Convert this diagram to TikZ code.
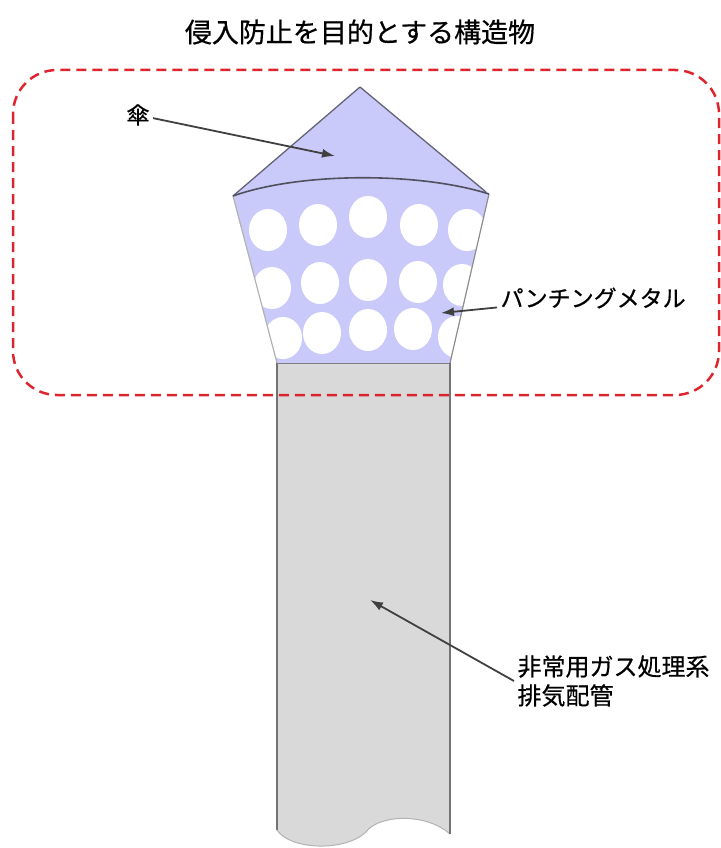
\documentclass[tikz,border=0pt]{standalone}
\usepackage{fontspec}
\setmainfont{Noto Sans CJK JP}
\newfontfamily\labelfont[FakeBold=0.6]{Noto Sans CJK JP}
\usepackage{tikz}
\usetikzlibrary{arrows.meta}

\definecolor{capblue}{RGB}{202,202,250}
\definecolor{pipegray}{RGB}{217,217,217}
\definecolor{zonered}{RGB}{222,36,46}
\definecolor{edgegray}{RGB}{100,100,118}

\begin{document}
\begin{tikzpicture}[x=1pt, y=-1pt,
    callout/.style={-{Latex[length=13pt, width=9pt]}, line width=1.8pt, black!75},
    lbl/.style={font=\labelfont\fontsize{23}{29}\selectfont}]
      \useasboundingbox (0, 0) rectangle (720, 848);
      \node[font=\labelfont\fontsize{27}{32}\selectfont] (title) at (360, 32) {侵入防止を目的とする構造物};

      % pipe
      \fill[pipegray] (277, 363) -- (450, 363) -- (450, 834)
        .. controls (425, 812) and (378, 815) .. (366, 832)
        .. controls (345, 852) and (290, 850) .. (277, 830) -- cycle;
      \draw[black!30, line width=1pt] (450, 834) .. controls (425, 812) and (378, 815) .. (366, 832)
        .. controls (345, 852) and (290, 850) .. (277, 830);
      \draw[black!55, line width=1.5pt] (277, 830) -- (277, 363) -- (450, 363) -- (450, 834);

      % cap and punched metal
      \fill[capblue] (233, 196) -- (360, 87) -- (489, 194) -- (450, 363) -- (277, 363) -- cycle;
      \begin{scope}
        \clip (233, 196) .. controls (300, 172) and (420, 172) .. (489, 194)
          -- (450, 363) -- (277, 363) -- cycle;
        \foreach \x/\y in {268/230, 318/225, 368/217, 419/225, 467/230,
                           272/288, 320/283, 368/280, 418/282, 462/285,
                           283/338, 322/333, 368/330, 413/329, 457/337} {
          \fill[white] (\x, \y) ellipse (19pt and 21pt);
        }
      \end{scope}
      \draw[black!30, line width=1.2pt] (233, 196) -- (277, 363);
      \draw[black!45, line width=1.2pt] (489, 194) -- (450, 363);
      \draw[edgegray, line width=1.3pt, line join=round] (233, 196) -- (360, 87) -- (486, 192);
      \draw[edgegray!80!black, line width=1.6pt] (233, 196) .. controls (300, 172) and (420, 172) .. (489, 194);

      % zone
      \draw[zonered, line width=2.5pt, dash pattern=on 10pt off 6pt, rounded corners=44pt]
        (13, 70) rectangle (719, 395);

      % labels
      \node[lbl] (kasa) at (138, 115) {傘};
      \node[lbl, anchor=west] (metal) at (497, 298) {パンチングメタル};
      \node[lbl, anchor=west, align=left, font=\labelfont\fontsize{24}{29}\selectfont] (pipe) at (514, 681) {非常用ガス処理系\\排気配管};
      \coordinate (kasa tip) at (335, 156);
      \coordinate (metal tip) at (441, 313);
      \coordinate (pipe tip) at (370, 600);
      \draw[callout] (kasa) -- (kasa tip);
      \draw[callout] (metal) -- (metal tip);
      \draw[callout] (pipe.west) -- (pipe tip);
    \end{tikzpicture}
\end{document}
